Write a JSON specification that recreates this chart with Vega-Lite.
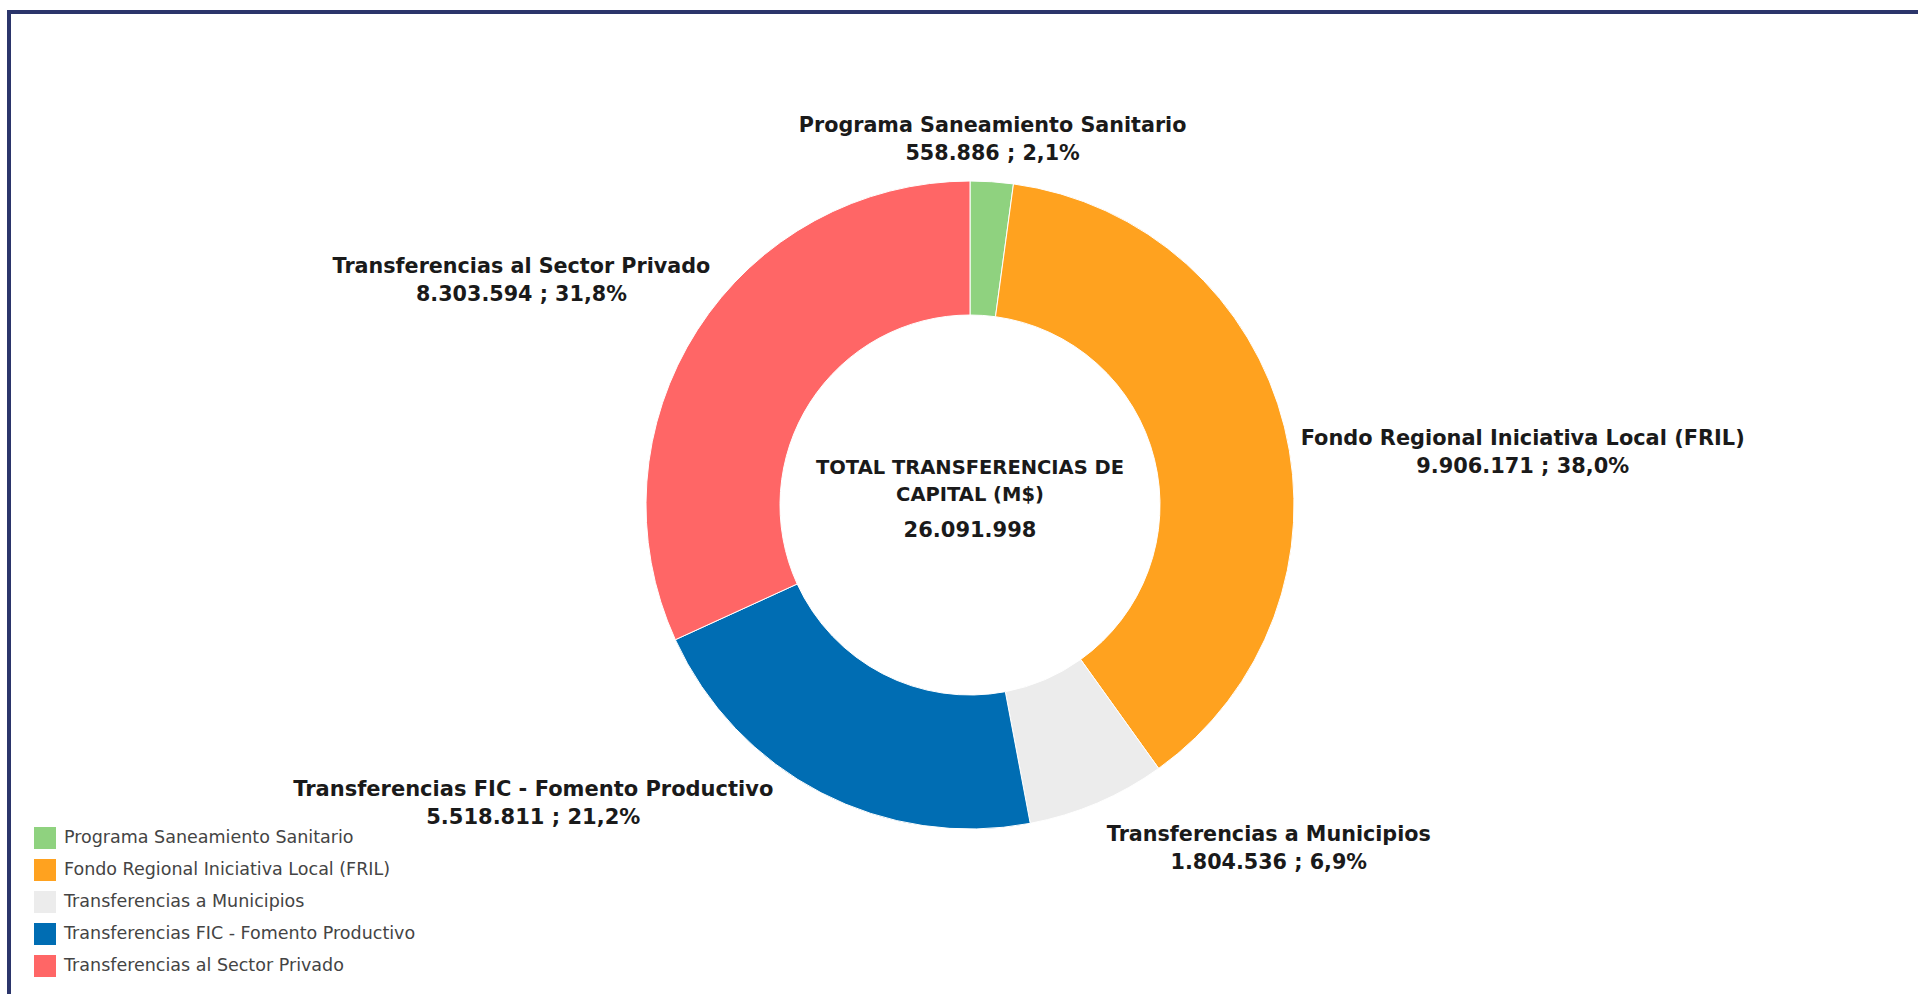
{
  "$schema": "https://vega.github.io/schema/vega-lite/v6.json",
  "autosize": {"type": "none"},
  "width": 1922,
  "height": 986,
  "padding": {"left": 9, "top": 12, "right": -13, "bottom": -4},
  "background": "#ffffff",
  "config": {
    "view": {"stroke": null},
    "font": "DejaVu Sans",
    "text": {"font": "DejaVu Sans"}
  },
  "data": {
    "values": [
      {"id": 1, "categoria": "Programa Saneamiento Sanitario", "valor": 558886, "etiqueta": ["Programa Saneamiento Sanitario", "558.886 ; 2,1%"]},
      {"id": 2, "categoria": "Fondo Regional Iniciativa Local (FRIL)", "valor": 9906171, "etiqueta": ["Fondo Regional Iniciativa Local (FRIL)", "9.906.171 ; 38,0%"]},
      {"id": 3, "categoria": "Transferencias a Municipios", "valor": 1804536, "etiqueta": ["Transferencias a Municipios", "1.804.536 ; 6,9%"]},
      {"id": 4, "categoria": "Transferencias FIC - Fomento Productivo", "valor": 5518811, "etiqueta": ["Transferencias FIC - Fomento Productivo", "5.518.811 ; 21,2%"]},
      {"id": 5, "categoria": "Transferencias al Sector Privado", "valor": 8303594, "etiqueta": ["Transferencias al Sector Privado", "8.303.594 ; 31,8%"]}
    ]
  },
  "transform": [
    {"stack": "valor", "groupby": [], "sort": [{"field": "id", "order": "ascending"}], "as": ["v0", "v1"]},
    {"calculate": "(datum.v0 + datum.v1) / 2", "as": "mid"}
  ],
  "layer": [
    {
      "mark": {"type": "arc", "outerRadius": 324, "innerRadius": 190, "stroke": "#ffffff", "strokeWidth": 1},
      "encoding": {
        "theta": {"field": "v0", "type": "quantitative", "scale": {"type": "linear", "domain": [0, 26091998], "range": [0, 6.283185307179586], "zero": true, "nice": false}},
        "theta2": {"field": "v1"},
        "color": {
          "field": "categoria",
          "type": "nominal",
          "scale": {
            "domain": ["Programa Saneamiento Sanitario", "Fondo Regional Iniciativa Local (FRIL)", "Transferencias a Municipios", "Transferencias FIC - Fomento Productivo", "Transferencias al Sector Privado"],
            "range": ["#8fd27f", "#ffa21f", "#ececec", "#006db3", "#ff6666"]
          },
          "legend": {
            "title": null,
            "orient": "none",
            "legendX": 25,
            "legendY": 815,
            "padding": 0,
            "symbolType": "square",
            "symbolSize": 484,
            "symbolStrokeWidth": 0,
            "labelFont": "DejaVu Sans",
            "labelFontSize": 17.5,
            "labelColor": "#444444",
            "labelOffset": 8,
            "rowPadding": 10,
            "labelLimit": 600
          }
        }
      }
    },
    {
      "transform": [{"filter": "datum.id == 1"}],
      "mark": {"type": "text", "radius": 381, "dx": -3, "dy": 1, "align": "center", "baseline": "middle", "fontWeight": "bold", "fontSize": 20.7, "lineHeight": 28, "color": "#1a1a1a"},
      "encoding": {"theta": {"field": "mid", "type": "quantitative"}, "text": {"field": "etiqueta"}}
    },
    {
      "transform": [{"filter": "datum.id == 2"}],
      "mark": {"type": "text", "radius": 554, "dx": 15, "dy": 68, "align": "center", "baseline": "middle", "fontWeight": "bold", "fontSize": 20.9, "lineHeight": 28, "color": "#1a1a1a"},
      "encoding": {"theta": {"field": "mid", "type": "quantitative"}, "text": {"field": "etiqueta"}}
    },
    {
      "transform": [{"filter": "datum.id == 3"}],
      "mark": {"type": "text", "radius": 419, "dx": 134, "dy": -55, "align": "center", "baseline": "middle", "fontWeight": "bold", "fontSize": 20.7, "lineHeight": 28, "color": "#1a1a1a"},
      "encoding": {"theta": {"field": "mid", "type": "quantitative"}, "text": {"field": "etiqueta"}}
    },
    {
      "transform": [{"filter": "datum.id == 4"}],
      "mark": {"type": "text", "radius": 452, "dx": -229, "dy": -116, "align": "center", "baseline": "middle", "fontWeight": "bold", "fontSize": 21, "lineHeight": 28, "color": "#1a1a1a"},
      "encoding": {"theta": {"field": "mid", "type": "quantitative"}, "text": {"field": "etiqueta"}}
    },
    {
      "transform": [{"filter": "datum.id == 5"}],
      "mark": {"type": "text", "radius": 507, "dx": -22, "dy": 36, "align": "center", "baseline": "middle", "fontWeight": "bold", "fontSize": 20.7, "lineHeight": 28, "color": "#1a1a1a"},
      "encoding": {"theta": {"field": "mid", "type": "quantitative"}, "text": {"field": "etiqueta"}}
    },
    {
      "data": {"values": [{"t": ["TOTAL TRANSFERENCIAS DE", "CAPITAL (M$)"]}]},
      "mark": {"type": "text", "align": "center", "baseline": "middle", "dy": -37, "fontWeight": "bold", "fontSize": 19.5, "lineHeight": 27, "color": "#1a1a1a"},
      "encoding": {"text": {"field": "t"}}
    },
    {
      "data": {"values": [{"t": "26.091.998"}]},
      "mark": {"type": "text", "align": "center", "baseline": "middle", "dy": 26, "fontWeight": "bold", "fontSize": 21, "color": "#1a1a1a"},
      "encoding": {"text": {"field": "t"}}
    },
    {
      "data": {"values": [{"borde": "superior"}]},
      "mark": {"type": "rule", "color": "#2b356b", "strokeWidth": 4, "strokeCap": "square"},
      "encoding": {"y": {"value": 0}}
    },
    {
      "data": {"values": [{"borde": "izquierdo"}]},
      "mark": {"type": "rule", "color": "#2b356b", "strokeWidth": 4, "strokeCap": "square"},
      "encoding": {"x": {"value": 0}}
    }
  ]
}
